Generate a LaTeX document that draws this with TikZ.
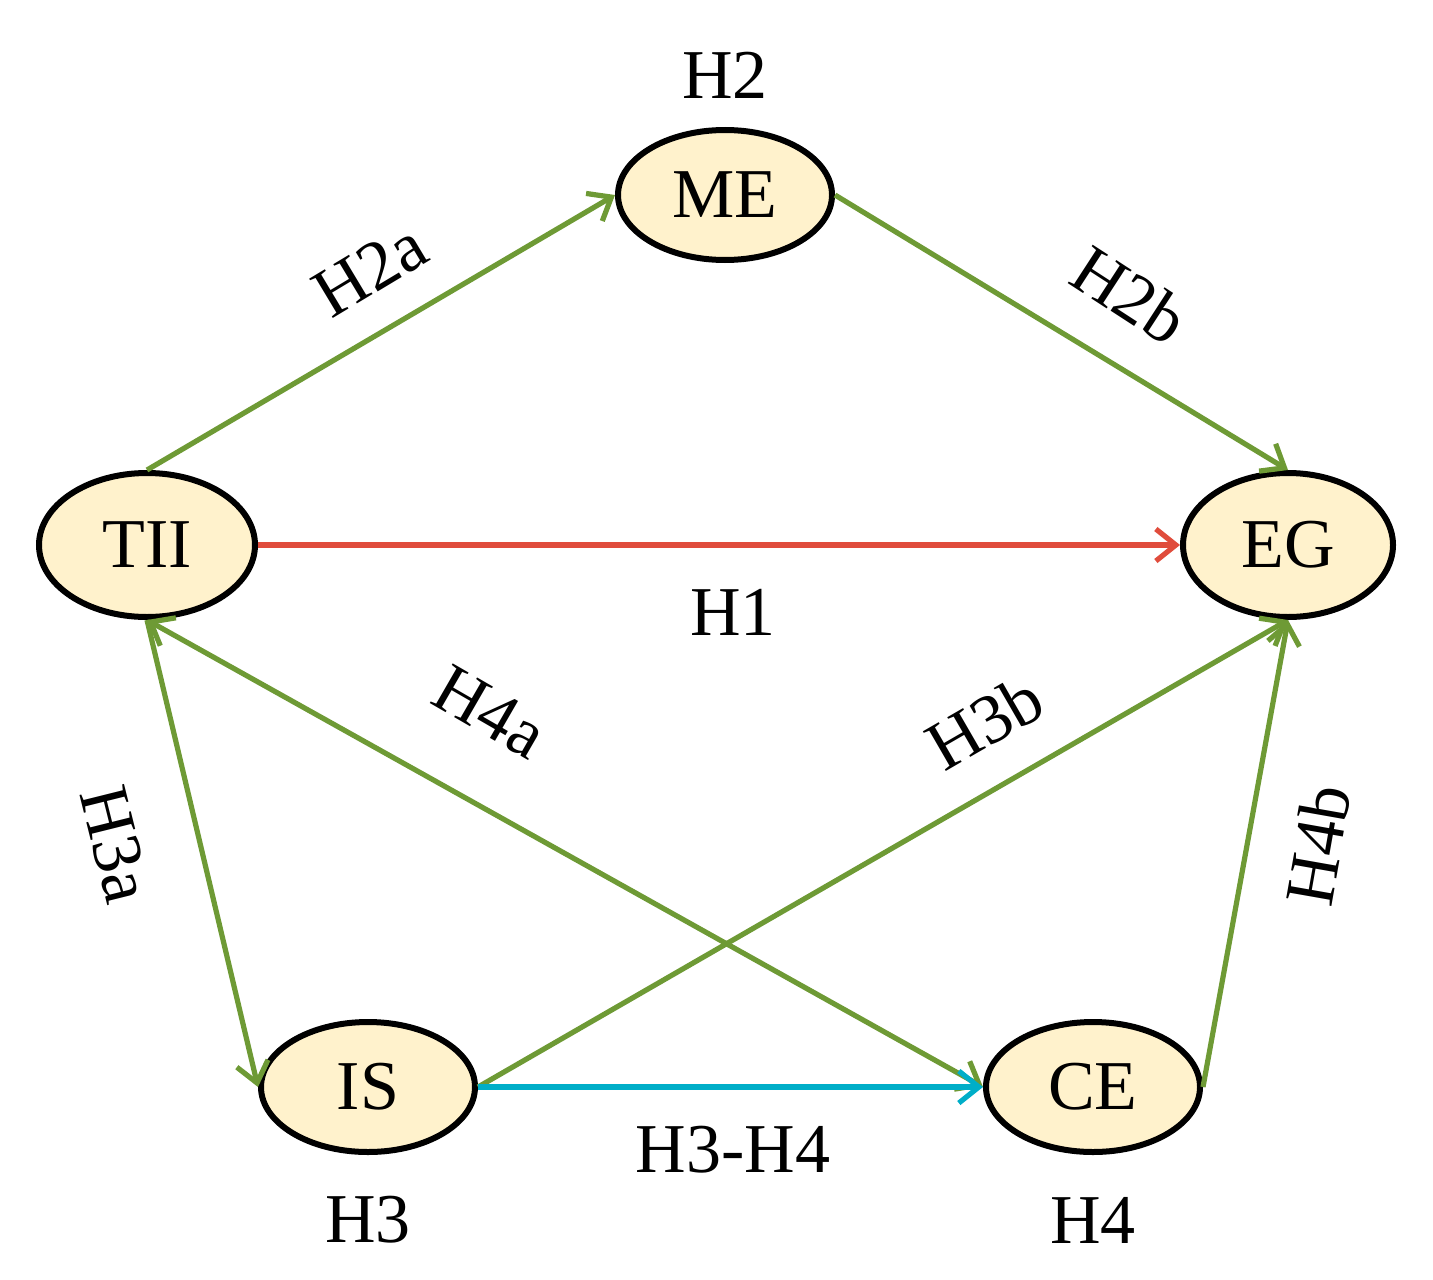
\documentclass[tikz,border=0pt]{standalone}
\usepackage{fontspec}
\setmainfont{Liberation Serif}
\usetikzlibrary{arrows.meta,shapes.geometric}
\definecolor{gr}{HTML}{6E9A35}
\definecolor{rd}{HTML}{E04C3C}
\definecolor{bl}{HTML}{00AEC8}
\definecolor{fl}{HTML}{FFF2CC}
\begin{document}
\begin{tikzpicture}[x=0.5pt,y=-0.5pt,
  ell/.style={ellipse,draw=black,line width=3pt,fill=fl,inner sep=0pt,font=\fontsize{35}{40}\selectfont},
  lbl/.style={font=\fontsize{35}{40}\selectfont},
  ar/.style={line width=2.6pt,-{Straight Barb[length=10pt,width=16pt,line width=2.6pt]}}]
\useasboundingbox (0,0) rectangle (1433,1279);
\node[ell,minimum width=107pt,minimum height=65pt] (ME) at (725,195) {ME};
\node[ell,minimum width=108pt,minimum height=72pt] (TII) at (147,545) {TII};
\node[ell,minimum width=105pt,minimum height=72pt] (EG) at (1288,545) {EG};
\node[ell,minimum width=107pt,minimum height=65pt] (IS) at (368,1087) {IS};
\node[ell,minimum width=107pt,minimum height=65pt] (CE) at (1093,1087) {CE};
\draw[ar,gr] (TII.north) -- (ME.west);
\draw[ar,gr] (ME.east) -- (EG.north);
\draw[ar,rd] (TII.east) -- (EG.west);
\draw[ar,gr] (TII.south) -- (IS.west);
\draw[ar,gr,{Straight Barb[length=10pt,width=16pt,line width=2.6pt]}-{Straight Barb[length=10pt,width=16pt,line width=2.6pt]}] (TII.south) -- (CE.west);
\draw[ar,gr] (IS.east) -- (EG.south);
\draw[ar,bl] (IS.east) -- (CE.west);
\draw[ar,gr] (CE.east) -- (EG.south);
\node[lbl] (l2) at (725,75) {H2};
\node[lbl] (l1) at (733,612) {H1};
\node[lbl] (l3) at (368,1220) {H3};
\node[lbl] (l4) at (1093,1220) {H4};
\node[lbl] (l34) at (733,1150) {H3-H4};
\node[lbl,rotate=31] (l2a) at (370,270) {H2a};
\node[lbl,rotate=-33] (l2b) at (1130,295) {H2b};
\node[lbl,rotate=-30] (l4a) at (490,712) {H4a};
\node[lbl,rotate=30] (l3b) at (985,722) {H3b};
\node[lbl,rotate=-76] (l3a) at (116,845) {H3a};
\node[lbl,rotate=80] (l4b) at (1318,845) {H4b};
\end{tikzpicture}
\end{document}
